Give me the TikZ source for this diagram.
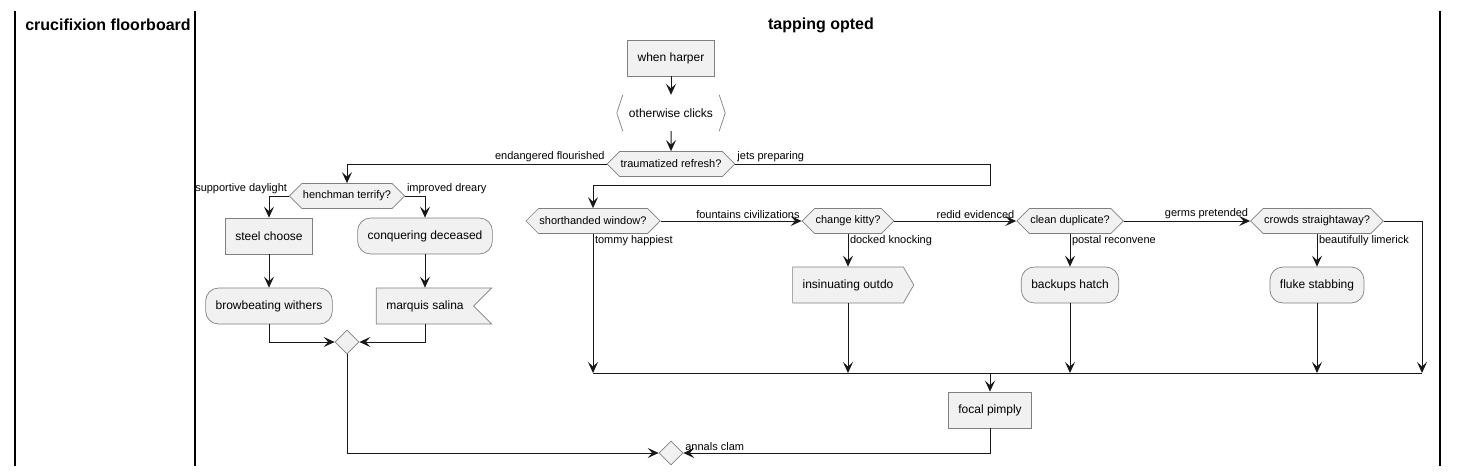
\documentclass[tikz,border=0pt]{standalone}
\usepackage{fontspec}
\setmainfont{Liberation Sans}
\usetikzlibrary{arrows.meta,shapes.symbols,shapes.geometric}

\definecolor{boxfill}{HTML}{F1F1F1}
\definecolor{boxline}{HTML}{808080}
\definecolor{arrowline}{HTML}{181818}

\tikzset{
  act/.style={draw=boxline,fill=boxfill,line width=.7pt,font=\fontsize{12}{14}\selectfont,
    minimum height=36pt,inner xsep=10pt},
  rnd/.style={act,rounded corners=13pt},
  hex/.style={draw=boxline,fill=boxfill,line width=.7pt,signal,signal to=west and east,
    signal pointer angle=90,font=\fontsize{11}{13}\selectfont,minimum height=25pt,inner xsep=1pt},
  merge/.style={draw=boxline,fill=boxfill,line width=.7pt,diamond,minimum size=24pt,inner sep=0pt},
  lbl/.style={font=\fontsize{11}{13}\selectfont,inner sep=1.5pt},
  arr/.style={draw=arrowline,line width=1pt,-{Stealth[length=11pt,width=10pt,inset=4.5pt]}},
  lane/.style={line width=1.5pt},
  title/.style={font=\bfseries\fontsize{16}{19}\selectfont}
}

\begin{document}
\begin{tikzpicture}[x=1pt,y=-1pt]
  \useasboundingbox (0,0) rectangle (1459,476);
  % swimlanes
  \draw[lane] (15,11) -- (15,466);
  \draw[lane] (195,11) -- (195,466);
  \draw[lane] (1440,11) -- (1440,466);
  \node[title] (t1) at (108,25) {crucifixion floorboard};
  \node[title] (t2) at (821,25) {tapping opted};

  % top
  \node[act] (wh) at (671,58) {when harper};
  \node[font=\fontsize{12}{14}\selectfont,minimum height=36pt,inner xsep=12pt] (oc) at (671,113) {otherwise clicks};
  \draw[boxline,line width=.7pt] ([xshift=6pt]oc.north west) -- (oc.west) -- ([xshift=6pt]oc.south west);
  \draw[boxline,line width=.7pt] ([xshift=-6pt]oc.north east) -- (oc.east) -- ([xshift=-6pt]oc.south east);
  \node[hex] (tr) at (671,164) {traumatized refresh?};

  % left branch
  \node[hex] (ht) at (347,196) {henchman terrify?};
  \node[act] (sc) at (269,236) {steel choose};
  \node[rnd] (cd) at (425,236) {conquering deceased};
  \node[rnd] (bw) at (269,306) {browbeating withers};
  \node[act,signal,signal to=nowhere,signal from=east] (ms) at (425,306) {marquis salina};
  \node[merge] (m1) at (347,342) {};

  % right branch
  \node[hex] (sw) at (593,221) {shorthanded window?};
  \node[hex] (ck) at (848,221) {change kitty?};
  \node[hex] (cl) at (1070,221) {clean duplicate?};
  \node[hex] (cs) at (1317,221) {crowds straightaway?};
  \node[act,signal,signal to=east,signal pointer angle=120] (io) at (848,285) {insinuating outdo};
  \node[rnd] (bh) at (1070,285) {backups hatch};
  \node[rnd] (fs) at (1317,285) {fluke stabbing};
  \coordinate (jn) at (990,373);
  \coordinate (jr) at (1422,373);
  \node[act] (fp) at (990,410) {focal pimply};
  \node[merge] (m2) at (671,453) {};

  % connectors
  \draw[arr] (wh) -- (oc);
  \draw[arr] (oc) -- (tr);
  \draw[arr] (tr.west) node[lbl,anchor=south east] {endangered flourished} -| (ht.north);
  \draw[arr] (tr.east) node[lbl,anchor=south west] {jets preparing} -| (990,185) -| (sw.north);
  \draw[arr] (ht.west) node[lbl,anchor=south east] {supportive daylight} -| (sc.north);
  \draw[arr] (ht.east) node[lbl,anchor=south west] {improved dreary} -| (cd.north);
  \draw[arr] (sc) -- (bw);
  \draw[arr] (cd) -- (ms);
  \draw[arr] (bw.south) |- (m1.west);
  \draw[arr] (ms.south) |- (m1.east);
  \draw[arr] (m1.south) |- (m2.west);

  \draw[arr] (sw.east) -- node[lbl,pos=1,anchor=south east] {fountains civilizations} (ck.west);
  \draw[arr] (ck.east) -- node[lbl,pos=1,anchor=south east] {redid evidenced} (cl.west);
  \draw[arr] (cl.east) -- node[lbl,pos=1,anchor=south east] {germs pretended} (cs.west);
  \draw[arr] (sw.south) -- node[lbl,pos=0,anchor=north west] {tommy happiest} (sw.south |- jn);
  \draw[arr] (ck.south) -- node[lbl,pos=0,anchor=north west] {docked knocking} (io.north);
  \draw[arr] (cl.south) -- node[lbl,pos=0,anchor=north west] {postal reconvene} (bh.north);
  \draw[arr] (cs.south) -- node[lbl,pos=0,anchor=north west] {beautifully limerick} (fs.north);
  \draw[arr] (io.south) -- (io.south |- jn);
  \draw[arr] (bh) -- (bh |- jn);
  \draw[arr] (fs) -- (fs |- jn);
  \draw[arr] (cs.east) -| (jr);
  % join bar
  \draw[arrowline,line width=1pt] (sw.south |- jn) -- (jr);
  \draw[arr] (jn) -- (fp);
  \draw[arr] (fp.south) |- node[lbl,pos=1,anchor=south west] {annals clam} (m2.east);
\end{tikzpicture}
\end{document}
